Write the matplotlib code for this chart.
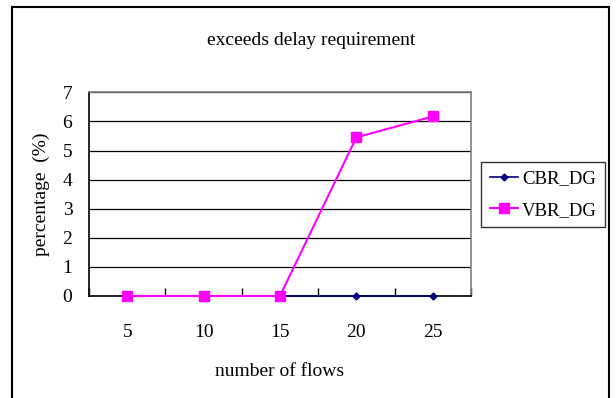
import matplotlib
matplotlib.use("Agg")
import matplotlib.pyplot as plt
from matplotlib.lines import Line2D

# data
flows = ["5", "10", "15", "20", "25"]
cbr_dg = [0, 0, 0, 0, 0]
vbr_dg = [0, 0, 0, 5.45, 6.17]

plt.rcParams["font.family"] = ["Liberation Serif", "DejaVu Serif"]
FS = 14

fig = plt.figure(figsize=(6.16, 3.98), dpi=100)
ax = fig.add_axes([0.1445, 0.2563, 0.620, 0.5117])

x = list(range(len(flows)))
ax.plot(x, cbr_dg, color="#000080", lw=1.2, marker="D", ms=3.5,
        label="CBR_DG", zorder=3, clip_on=False)
ax.plot(x, vbr_dg, color="#FF00FF", lw=1.5, marker="s", ms=6.5,
        label="VBR_DG", zorder=4, clip_on=False)

ax.set_xlim(-0.5, len(flows) - 0.5)
ax.set_ylim(0, 7)
ax.set_yticks(range(0, 8))
ax.yaxis.grid(True, color="black", lw=0.9)
ax.set_axisbelow(True)
ax.tick_params(axis="y", length=0, labelsize=FS, pad=12)

# category labels centered, tick marks between categories
ax.set_xticks(x)
ax.set_xticklabels(flows)
ax.set_xticks([i - 0.5 for i in range(len(flows) + 1)], minor=True)
ax.tick_params(axis="x", which="major", length=0, labelsize=FS, pad=20)
ax.tick_params(axis="x", which="minor", direction="in", length=6,
               color="black", width=1)

for side in ("top", "right"):
    ax.spines[side].set_color("#808080")
    ax.spines[side].set_linewidth(1.2)
ax.spines["left"].set_color("black")
ax.spines["bottom"].set_color("black")
ax.spines["left"].set_linewidth(1.2)
ax.spines["bottom"].set_linewidth(1.2)

ax.set_xlabel("number of flows", fontsize=FS, labelpad=16)
ax.set_ylabel("percentage  (%)", fontsize=FS, labelpad=9)
fig.text(0.505, 0.897, "exceeds delay requirement", fontsize=FS,
         ha="center", va="center")

leg = ax.legend(loc="upper left", bbox_to_anchor=(0.781, 0.593),
                bbox_transform=fig.transFigure, borderaxespad=0,
                fontsize=13.5, frameon=True, fancybox=False,
                handlelength=1.5, handletextpad=0.22, borderpad=0.45,
                labelspacing=0.75)
leg.get_frame().set_edgecolor("black")
leg.get_frame().set_linewidth(1.0)

# outer chart border (open at the bottom)
x0, x1, ytop = 12 / 616, 609 / 616, 1 - 7 / 398
for xs, ys in [((x0, x0), (0, ytop)), ((x0, x1), (ytop, ytop)),
               ((x1, x1), (ytop, 0))]:
    fig.add_artist(Line2D(xs, ys, color="black", lw=1.5,
                          transform=fig.transFigure))

fig.savefig("out.png", dpi=100)
